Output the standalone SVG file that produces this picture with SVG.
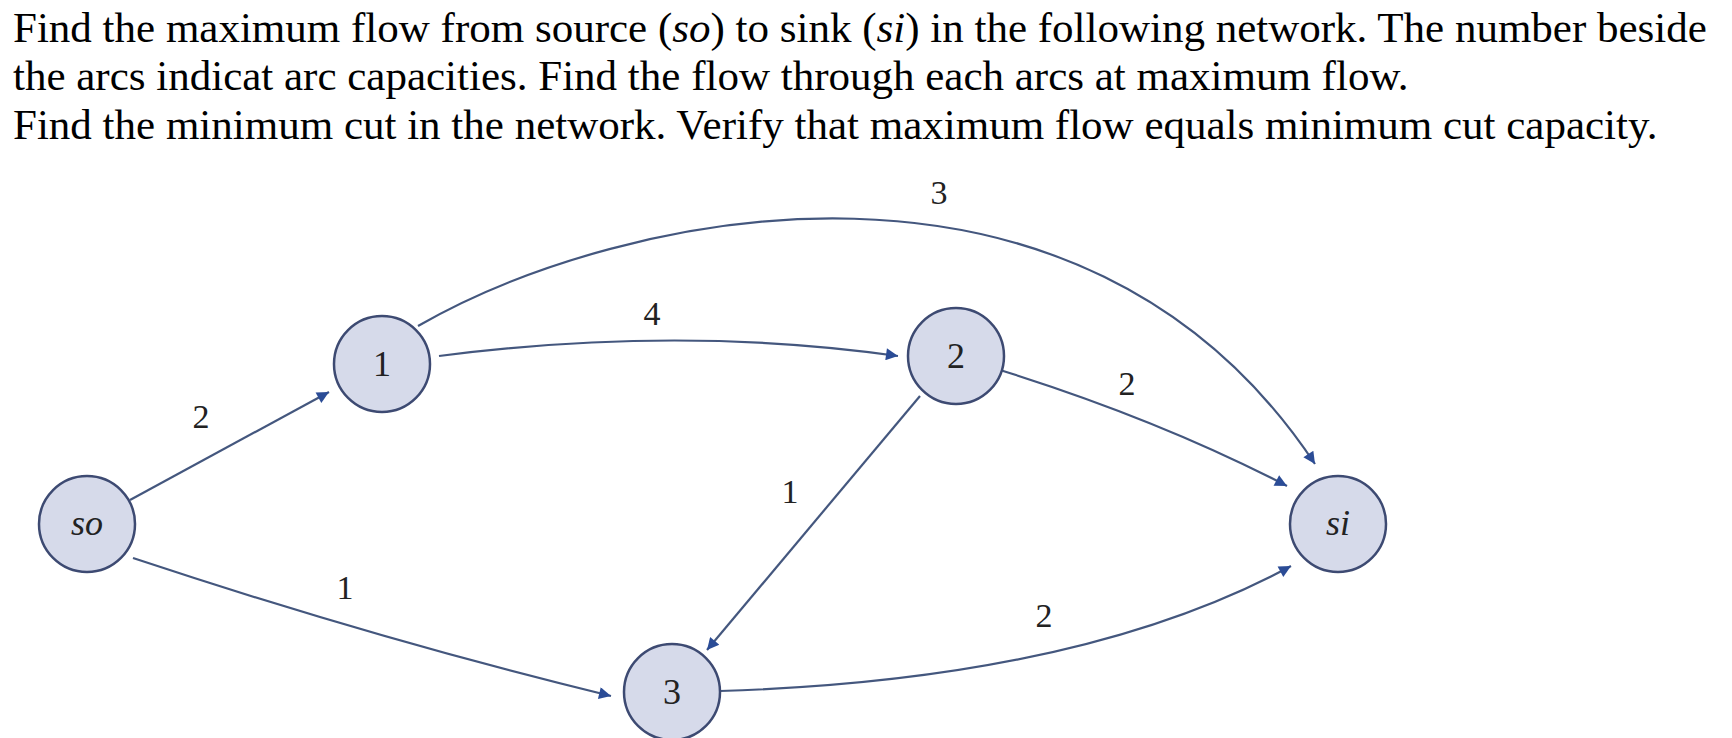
<svg xmlns="http://www.w3.org/2000/svg" width="1732" height="738" viewBox="0 0 1732 738">
<style>
.t{font-family:"Liberation Serif",serif;font-size:43px;fill:#000}
.i{font-style:italic}
.l{font-family:"Liberation Serif",serif;font-size:34px;fill:#222;text-anchor:middle}
.n{fill:#d6daea;stroke:#3d4a72;stroke-width:2.5}
.nt{font-family:"Liberation Serif",serif;font-size:36px;fill:#222;text-anchor:middle}
.e{fill:none;stroke:#44577e;stroke-width:2.2;marker-end:url(#a)}
</style>
<defs><marker id="a" viewBox="0 0 10 10" refX="10" refY="5" markerWidth="24" markerHeight="12" orient="auto" markerUnits="userSpaceOnUse"><path d="M0,0L10,5L0,10z" fill="#2b4c96"/></marker></defs>
<rect width="1732" height="738" fill="#fff"/>
<text class="t" x="13" y="42">Find the maximum flow from source (<tspan class="i">so</tspan>) to sink (<tspan class="i">si</tspan>) in the following network. The number beside</text>
<text class="t" x="13" y="90">the arcs indicat arc capacities. Find the flow through each arcs at maximum flow.</text>
<text class="t" x="13" y="139">Find the minimum cut in the network. Verify that maximum flow equals minimum cut capacity.</text>
<g id="connectors">
<path class="e" d="M130,500 L329,392"/>
<path class="e" d="M439,356 Q680,325 898,356"/>
<path class="e" d="M418,326 C620,210 1080,110 1315,464"/>
<path class="e" d="M1000,370 Q1160,420 1287,486"/>
<path class="e" d="M920,396 L707,650"/>
<path class="e" d="M133,558 Q380,640 611,696"/>
<path class="e" d="M720,691 Q1080,680 1291,566"/>
</g>
<g id="labels">
<text class="l" x="939" y="204">3</text>
<text class="l" x="652" y="325">4</text>
<text class="l" x="201" y="428">2</text>
<text class="l" x="1127" y="395">2</text>
<text class="l" x="790" y="503">1</text>
<text class="l" x="345" y="599">1</text>
<text class="l" x="1044" y="627">2</text>
</g>
<g id="node-so"><circle class="n" cx="87" cy="524" r="48"/><text class="nt i" x="87" y="535">so</text></g>
<g id="node-1"><circle class="n" cx="382" cy="364" r="48"/><text class="nt" x="382" y="376">1</text></g>
<g id="node-2"><circle class="n" cx="956" cy="356" r="48"/><text class="nt" x="956" y="368">2</text></g>
<g id="node-si"><circle class="n" cx="1338" cy="524" r="48"/><text class="nt i" x="1338" y="535">si</text></g>
<g id="node-3"><circle class="n" cx="672" cy="692" r="48"/><text class="nt" x="672" y="704">3</text></g>
</svg>
